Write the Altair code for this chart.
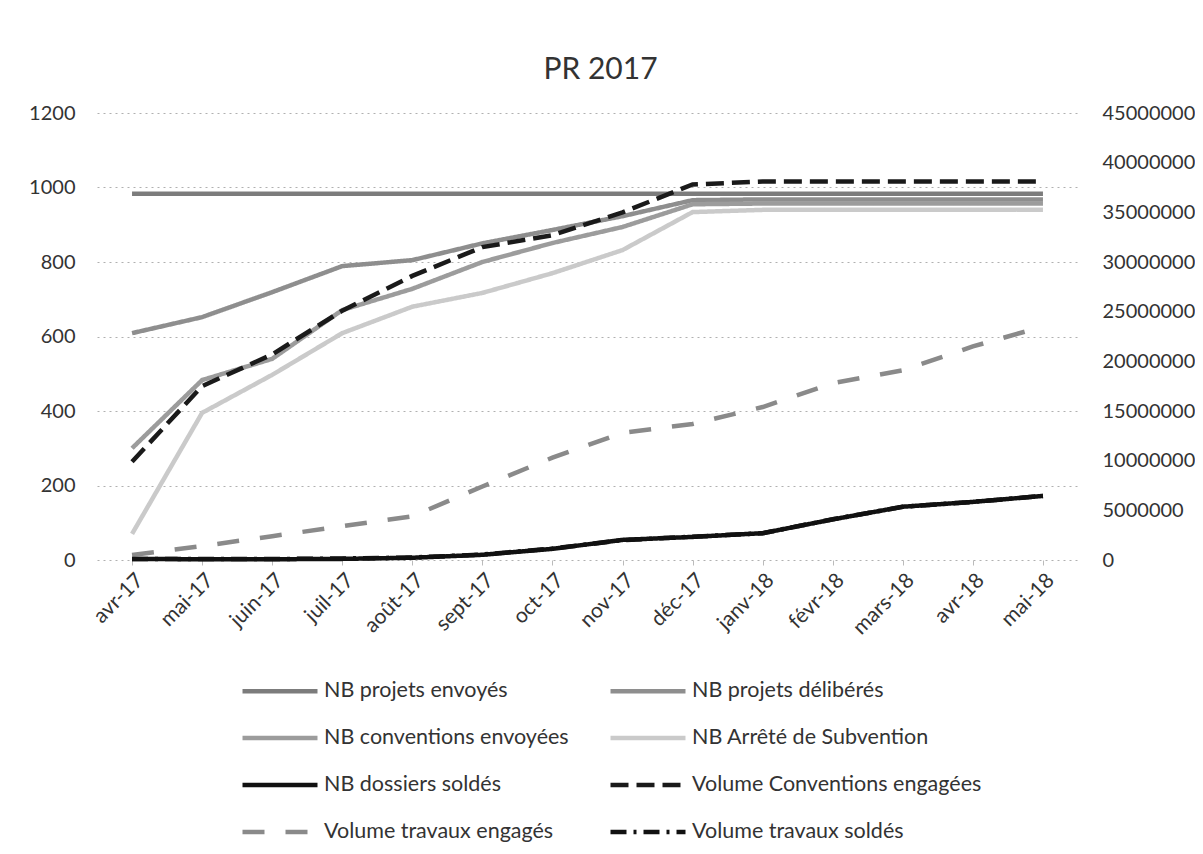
import altair as alt
import pandas as pd

months = ["avr-17", "mai-17", "juin-17", "juil-17", "août-17", "sept-17", "oct-17",
          "nov-17", "déc-17", "janv-18", "févr-18", "mars-18", "avr-18", "mai-18"]

nb_projets_envoyes = [983, 983, 983, 983, 983, 983, 983, 983, 983, 983, 983, 983, 983, 983]
nb_projets_deliberes = [609, 652, 719, 789, 805, 850, 886, 923, 966, 968, 968, 968, 968, 968]
nb_conventions_envoyees = [300, 483, 540, 671, 728, 800, 851, 894, 955, 957, 957, 957, 957, 957]
nb_arrete_subvention = [70, 395, 497, 609, 680, 717, 770, 832, 934, 940, 940, 940, 940, 940]
nb_dossiers_soldes = [3, 2, 2, 3, 6, 14, 30, 54, 62, 72, 109, 143, 156, 172]

vol_conventions_engagees = [9900000, 17500000, 20700000, 25100000, 28600000, 31500000, 32700000,
                            35000000, 37800000, 38100000, 38100000, 38100000, 38100000, 38100000]
vol_travaux_engages = [500000, 1400000, 2400000, 3400000, 4400000, 7400000, 10300000,
                       12800000, 13700000, 15400000, 17800000, 19100000, 21500000, 23500000]
vol_travaux_soldes = [100000, 100000, 100000, 150000, 250000, 550000, 1150000,
                      2000000, 2350000, 2700000, 4100000, 5350000, 5850000, 6450000]

left_series = {
    "NB projets envoyés": nb_projets_envoyes,
    "NB projets délibérés": nb_projets_deliberes,
    "NB conventions envoyées": nb_conventions_envoyees,
    "NB Arrêté de Subvention": nb_arrete_subvention,
    "NB dossiers soldés": nb_dossiers_soldes,
}
right_series = {
    "Volume Conventions engagées": vol_conventions_engagees,
    "Volume travaux engagés": vol_travaux_engages,
    "Volume travaux soldés": vol_travaux_soldes,
}

# legend order (legend columns are filled top to bottom)
series_order = ["NB projets envoyés", "NB conventions envoyées", "NB dossiers soldés",
                "Volume travaux engagés", "NB projets délibérés", "NB Arrêté de Subvention",
                "Volume Conventions engagées", "Volume travaux soldés"]
style = {
    "NB projets envoyés": ("#7c7c7c", [1, 0], 4.5),
    "NB projets délibérés": ("#8e8e8e", [1, 0], 4.5),
    "NB conventions envoyées": ("#9c9c9c", [1, 0], 4.5),
    "NB Arrêté de Subvention": ("#cacaca", [1, 0], 3.5),
    "NB dossiers soldés": ("#111111", [1, 0], 4.5),
    "Volume Conventions engagées": ("#1a1a1a", [18, 8], 5.5),
    "Volume travaux engagés": ("#8a8a8a", [22, 21], 4.5),
    "Volume travaux soldés": ("#111111", [16, 7, 3, 7], 4.5),
}
colors = [style[s][0] for s in series_order]
dashes = [style[s][1] for s in series_order]
widths = [style[s][2] for s in series_order]


def to_long(d):
    rows = []
    for name, vals in d.items():
        for m, v in zip(months, vals):
            rows.append({"mois": m, "serie": name, "valeur": v})
    return pd.DataFrame(rows)


df_left = to_long(left_series)
df_right = to_long(right_series)

x_enc = alt.X("mois:N", sort=months, title=None,
              scale=alt.Scale(type="point", padding=0.5),
              axis=alt.Axis(labelAngle=315, labelAlign="right", labelBaseline="top",
                            domain=False, ticks=True, tickSize=5, tickColor="#bbbbbb",
                            labelPadding=4, grid=False, labelFontSize=21))

legend = alt.Legend(orient="none", legendX=143, legendY=568, columns=2,
                    symbolType="stroke", symbolSize=5625, clipHeight=20,
                    rowPadding=25, columnPadding=39, labelOffset=4,
                    labelFontSize=21.5, labelFont="Lato", labelColor="#333333",
                    labelLimit=500, title=None)

color_enc = alt.Color("serie:N", title=None,
                      scale=alt.Scale(domain=series_order, range=colors), legend=legend)
dash_enc = alt.StrokeDash("serie:N", title=None,
                          scale=alt.Scale(domain=series_order, range=dashes), legend=legend)
width_enc = alt.StrokeWidth("serie:N", title=None,
                            scale=alt.Scale(domain=series_order, range=widths), legend=legend)

left = alt.Chart(df_left).mark_line().encode(
    x=x_enc,
    y=alt.Y("valeur:Q", title=None,
            scale=alt.Scale(domain=[0, 1200], nice=False),
            axis=alt.Axis(values=[0, 200, 400, 600, 800, 1000, 1200], grid=True,
                          gridDash=[2, 4], gridColor="#b0b0b0", domain=False, ticks=False,
                          format="d", labelPadding=22, orient="left")),
    color=color_enc, strokeDash=dash_enc, strokeWidth=width_enc,
)

right = alt.Chart(df_right).mark_line().encode(
    x=x_enc,
    y=alt.Y("valeur:Q", title=None,
            scale=alt.Scale(domain=[0, 45000000], nice=False),
            axis=alt.Axis(values=[i * 5000000 for i in range(10)], grid=False,
                          domain=False, ticks=False, format="d",
                          labelPadding=24, orient="right")),
    color=color_enc, strokeDash=dash_enc, strokeWidth=width_enc,
)

chart = alt.layer(left, right).resolve_scale(y="independent").properties(
    width=981, height=447,
    autosize=alt.AutoSizeParams(type="none"),
    padding={"left": 89, "top": 105, "right": 117, "bottom": 286},
    title=alt.TitleParams("PR 2017", fontSize=30, font="Lato", fontWeight="normal",
                          color="#333333", anchor="middle", offset=18, dx=13),
).configure_axis(
    labelFont="Lato", labelFontSize=20, labelColor="#333333"
).configure_view(stroke=None)

chart.save("out.html", embed_options={"renderer": "svg", "actions": False})
